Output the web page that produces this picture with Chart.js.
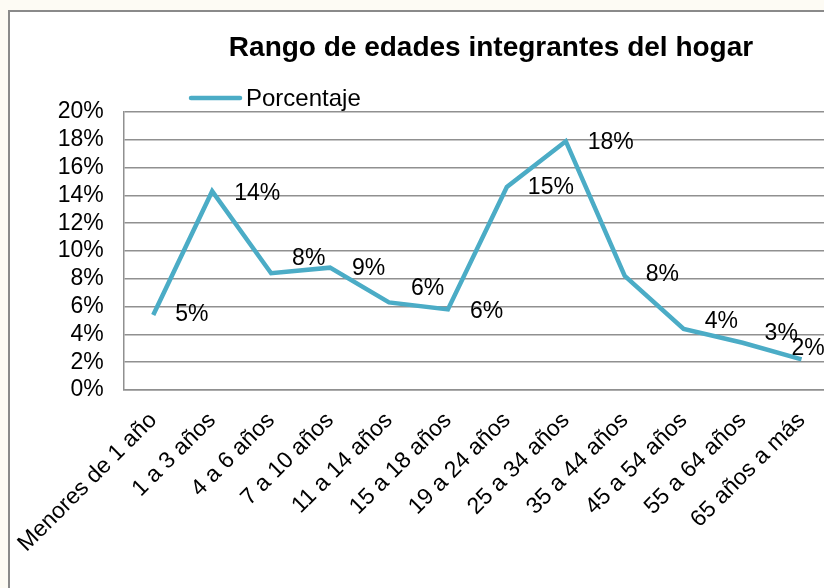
<!DOCTYPE html>
<html>
<head>
<meta charset="utf-8">
<script src="https://cdn.jsdelivr.net/npm/chart.js@4.4.0/dist/chart.umd.min.js"></script>
<style>
  html, body { margin: 0; padding: 0; overflow: hidden; background: #fdfbf4; }
  #wrap { position: relative; width: 824px; height: 588px; overflow: hidden; }
  #chart { position: absolute; left: 0; top: 0; }
</style>
</head>
<body>
<div id="wrap"><canvas id="chart" width="860" height="588"></canvas></div>
<script>
// ---- data ----
const chartTitle = "Rango de edades integrantes del hogar";
const seriesName = "Porcentaje";
const ageGroups = ["Menores de 1 año", "1 a 3 años", "4 a 6 años", "7 a 10 años", "11 a 14 años",
  "15 a 18 años", "19 a 24 años", "25 a 34 años", "35 a 44 años", "45 a 54 años",
  "55 a 64 años", "65 años a más"];
const shareValues = [5.4, 14.3, 8.4, 8.8, 6.3, 5.8, 14.6, 17.9, 8.2, 4.4, 3.4, 2.2];
const shareLabels = ["5%", "14%", "8%", "9%", "6%", "6%", "15%", "18%", "8%", "4%", "3%", "2%"];

// label nudges relative to each point (style only)
const labelNudge = [[22, 0], [22, 2], [21, -15], [22, 1], [22, -14], [22, 2],
  [21, 1], [22, 1], [21, -1], [21, -7], [22, -9], [-10, -11]];

const lineColor = "rgb(75,172,198)";
const gridColor = "#909090";
const fontFamily = "'Liberation Sans', Arial, sans-serif";

Chart.defaults.font.family = fontFamily;
Chart.defaults.color = "#000";

// background + Excel style chart frame
const framePlugin = {
  id: "frame",
  beforeDraw(chart) {
    const ctx = chart.ctx;
    ctx.save();
    ctx.fillStyle = "#fdfbf4";
    ctx.fillRect(0, 0, chart.width, chart.height);
    ctx.fillStyle = "#fff";
    ctx.fillRect(9, 11, chart.width, chart.height);
    ctx.strokeStyle = "#8a8a8a";
    ctx.lineWidth = 2;
    ctx.strokeRect(9, 11, chart.width + 20, chart.height + 20);
    ctx.restore();
  }
};

// title and legend drawn where Excel had them
const headerPlugin = {
  id: "header",
  afterDraw(chart) {
    const ctx = chart.ctx;
    ctx.save();
    ctx.fillStyle = "#000";
    ctx.font = "bold 28px " + fontFamily;
    ctx.textAlign = "center";
    ctx.textBaseline = "middle";
    ctx.fillText(chartTitle, 491, 48);

    ctx.strokeStyle = lineColor;
    ctx.lineWidth = 4.5;
    ctx.lineCap = "round";
    ctx.beginPath();
    ctx.moveTo(191, 98);
    ctx.lineTo(240, 98);
    ctx.stroke();
    ctx.font = "24px " + fontFamily;
    ctx.textAlign = "left";
    ctx.fillText(chart.data.datasets[0].label, 246, 99);
    ctx.restore();
  }
};

const valueLabelPlugin = {
  id: "valueLabels",
  afterDatasetsDraw(chart) {
    const ctx = chart.ctx;
    const meta = chart.getDatasetMeta(0);
    ctx.save();
    ctx.fillStyle = "#000";
    ctx.font = "23px " + fontFamily;
    ctx.textAlign = "left";
    ctx.textBaseline = "middle";
    meta.data.forEach((pt, i) => {
      const n = labelNudge[i];
      ctx.fillText(shareLabels[i], pt.x + n[0], pt.y + n[1]);
    });
    ctx.restore();
  }
};

new Chart(document.getElementById("chart"), {
  type: "line",
  data: {
    labels: ageGroups,
    datasets: [{
      label: seriesName,
      data: shareValues,
      borderColor: lineColor,
      backgroundColor: lineColor,
      borderWidth: 4.5,
      pointRadius: 0,
      tension: 0,
      borderJoinStyle: "miter"
    }]
  },
  options: {
    responsive: false,
    animation: false,
    layout: { padding: { top: 112, right: 29, bottom: 0, left: 0 } },
    plugins: {
      legend: { display: false },
      title: { display: false },
      tooltip: { enabled: false }
    },
    scales: {
      x: {
        offset: true,
        afterFit(scale) { scale.height = 198; },
        grid: { display: false, drawTicks: false },
        border: { display: true, color: gridColor, width: 1.5 },
        ticks: {
          autoSkip: false,
          minRotation: 45,
          maxRotation: 45,
          padding: 17,
          font: { size: 23 },
          color: "#000"
        }
      },
      y: {
        min: 0,
        max: 20,
        afterFit(scale) { scale.width = 123; },
        grid: { color: gridColor, lineWidth: 1.5, drawTicks: false },
        border: { display: true, color: gridColor, width: 1.5 },
        ticks: {
          stepSize: 2,
          autoSkip: false,
          padding: 20,
          font: { size: 23 },
          color: "#000",
          callback: v => v + "%"
        }
      }
    }
  },
  plugins: [framePlugin, headerPlugin, valueLabelPlugin]
});
</script>
</body>
</html>
